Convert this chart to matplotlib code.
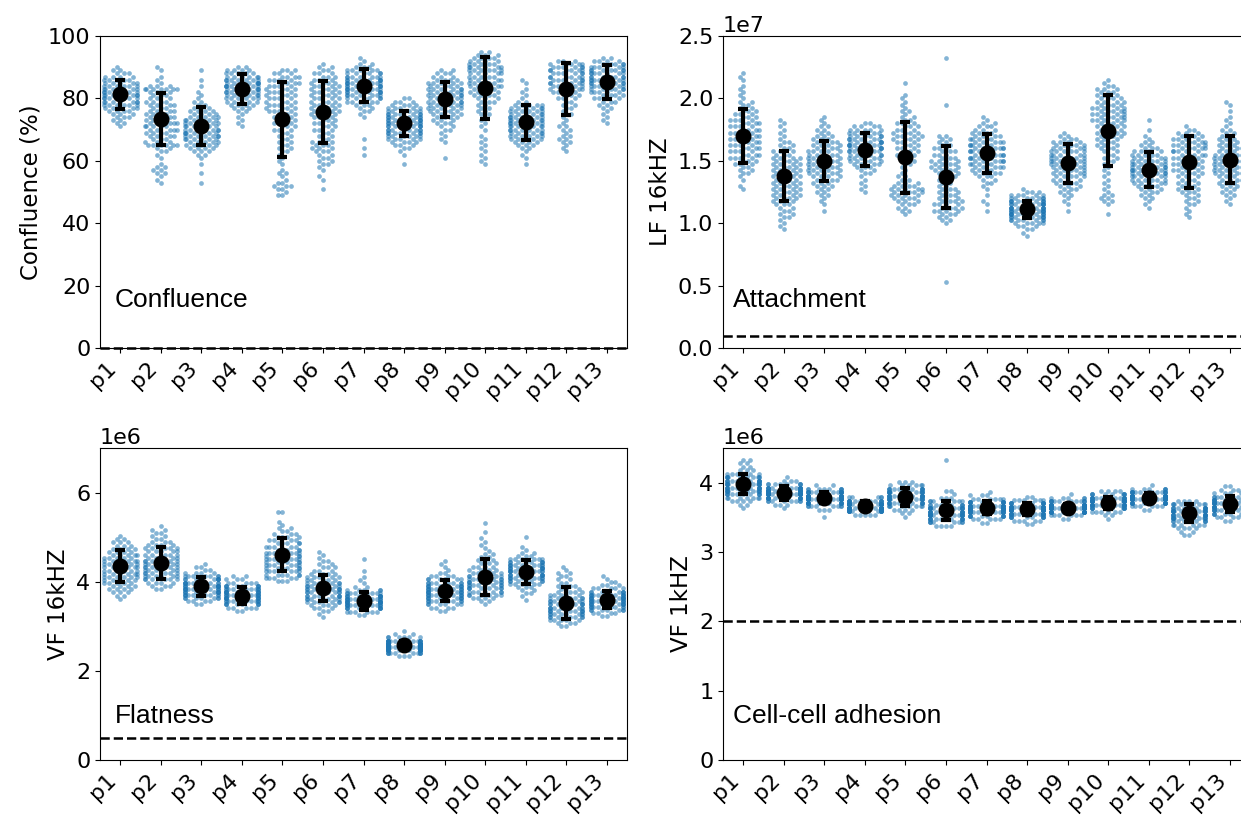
import warnings

import numpy as np
import pandas as pd
import matplotlib
matplotlib.use("Agg")
import matplotlib.pyplot as plt
import seaborn as sns

warnings.filterwarnings("ignore", category=UserWarning)

plt.rcParams["font.size"] = 16

patients = ["p%d" % i for i in range(1, 14)]

# each patient is stored as a histogram: first bin value + counts per bin

# Confluence (%), 1 % bins
conf_step = 1.0
conf_start = [71, 53, 53, 71, 49, 51, 62, 59, 61, 59, 59, 63, 72]
conf_counts = [
    [1, 2, 2, 3, 3, 4, 5, 6, 7, 7, 7, 7, 6, 6, 5, 5, 4, 3, 2, 1],
    [1, 1, 1, 2, 2, 2, 1, 0, 1, 1, 2, 2, 6, 3, 3, 4, 4, 5, 5, 5, 4, 4, 4, 4, 3, 4, 4, 3, 3, 3, 7, 3, 1, 1, 1, 0, 1, 1],
    [1, 0, 0, 1, 0, 0, 1, 0, 1, 2, 3, 4, 5, 5, 6, 7, 7, 7, 6, 6, 6, 5, 4, 4, 3, 2, 2, 1, 1, 1, 0, 1, 0, 1, 0, 0, 1],
    [1, 1, 1, 1, 1, 2, 3, 4, 5, 6, 6, 7, 7, 8, 8, 7, 6, 5, 4, 2],
    [2, 1, 2, 3, 2, 1, 1, 2, 1, 0, 1, 1, 1, 1, 2, 2, 2, 2, 2, 2, 2, 3, 3, 3, 3, 3, 3, 4, 4, 4, 4, 4, 4, 4, 4, 4, 4, 4, 4, 3, 3],
    [1, 0, 0, 1, 1, 0, 1, 1, 2, 2, 2, 2, 3, 3, 3, 3, 2, 2, 2, 3, 3, 3, 3, 3, 4, 4, 4, 4, 4, 4, 4, 4, 4, 4, 4, 3, 3, 3, 2, 2, 1],
    [1, 0, 1, 0, 0, 1, 0, 0, 0, 0, 0, 0, 1, 1, 2, 2, 3, 5, 6, 7, 8, 8, 8, 8, 8, 7, 6, 5, 3, 2, 1, 1],
    [1, 0, 0, 1, 1, 2, 3, 4, 5, 6, 7, 8, 8, 8, 8, 8, 7, 6, 5, 4, 3, 2],
    [1, 0, 0, 0, 0, 1, 1, 1, 1, 2, 2, 3, 3, 4, 4, 5, 5, 6, 6, 6, 6, 6, 6, 5, 5, 4, 3, 3, 2],
    [1, 1, 1, 1, 1, 1, 1, 1, 1, 1, 0, 1, 1, 1, 1, 1, 2, 2, 2, 2, 3, 3, 4, 4, 4, 5, 5, 5, 5, 5, 6, 6, 5, 4, 4, 3, 2],
    [1, 0, 1, 1, 1, 2, 3, 4, 5, 6, 6, 7, 7, 7, 7, 7, 6, 6, 6, 5, 2, 1, 1, 1, 1, 0, 1, 1],
    [1, 1, 1, 2, 2, 2, 1, 2, 2, 1, 1, 1, 2, 1, 2, 2, 2, 3, 3, 4, 5, 5, 6, 6, 6, 6, 6, 6, 5, 3],
    [1, 1, 1, 1, 1, 2, 2, 3, 4, 4, 5, 6, 6, 7, 7, 7, 7, 7, 6, 5, 4, 2],
]
conf_mean = [81.3, 73.3, 71.2, 82.9, 73.3, 75.6, 84.0, 72.0, 79.7, 83.4, 72.4, 83.1, 85.3]
conf_sd = [4.6, 8.3, 6.2, 4.8, 12.1, 9.9, 5.3, 4.0, 5.6, 9.9, 5.6, 8.3, 5.5]

# LF 16kHZ, in units of 1e6
att_step = 0.25
att_start = [12.75, 9.5, 11.0, 12.5, 10.75, 5.25, 11.0, 9.0, 11.0, 10.75, 11.25, 10.5, 11.5]
att_counts = [
    [1, 1, 0, 1, 1, 2, 2, 2, 3, 3, 4, 4, 4, 4, 4, 4, 4, 4, 4, 4, 4, 4, 4, 3, 3, 3, 2, 2, 2, 1, 1, 1, 1, 1, 0, 1, 1, 1],
    [1, 1, 1, 1, 2, 2, 2, 2, 3, 3, 4, 4, 4, 4, 4, 4, 4, 4, 4, 4, 4, 4, 4, 4, 3, 3, 2, 2, 2, 1, 1, 1, 1, 1, 1, 1],
    [1, 0, 1, 1, 1, 2, 2, 2, 3, 3, 4, 4, 5, 5, 5, 5, 5, 5, 5, 5, 4, 4, 4, 3, 3, 2, 2, 2, 1, 1, 1],
    [1, 1, 1, 1, 1, 1, 2, 2, 3, 4, 5, 5, 6, 6, 7, 7, 7, 6, 6, 5, 5, 4, 2],
    [1, 2, 2, 3, 3, 4, 4, 5, 5, 4, 3, 2, 2, 1, 1, 1, 2, 2, 2, 3, 3, 3, 3, 3, 4, 4, 4, 3, 3, 3, 2, 2, 1, 2, 1, 1, 1, 1, 1, 0, 0, 0, 1],
    [1] + [0] * 18
    + [1, 2, 2, 3, 4, 4, 4, 4, 3, 3, 3, 3, 2, 2, 2, 3, 3, 4, 4, 4, 4, 3, 3, 3, 3, 2, 2, 2, 2]
    + [0] * 9 + [1] + [0] * 14 + [1],
    [1, 0, 1, 1, 0, 1, 0, 1, 1, 2, 2, 3, 4, 4, 5, 5, 6, 6, 6, 6, 6, 6, 5, 5, 4, 4, 3, 3, 2, 1, 1],
    [1, 1, 2, 3, 5, 7, 9, 10, 11, 11, 10, 9, 7, 5, 3, 1],
    [1, 0, 1, 1, 1, 2, 2, 3, 3, 4, 4, 5, 5, 5, 5, 6, 6, 6, 6, 6, 5, 5, 4, 3, 2, 1],
    [1, 0, 0, 1, 2, 2, 2, 1, 1, 1, 1, 1, 1, 1, 1, 1, 1, 2, 2, 2, 2, 3, 3, 3, 3, 4, 4, 4, 4, 4, 5, 5, 5, 5, 5, 4, 4, 4, 3, 3, 3, 2, 1, 1],
    [1, 1, 1, 2, 2, 3, 3, 4, 5, 6, 6, 7, 7, 7, 6, 6, 5, 5, 4, 3, 2, 2, 1, 1, 0, 1, 0, 0, 1],
    [1, 1, 1, 1, 2, 2, 2, 2, 3, 3, 3, 3, 3, 3, 4, 4, 4, 4, 4, 4, 5, 5, 5, 5, 5, 4, 4, 3, 2, 1],
    [1, 1, 1, 2, 2, 2, 3, 3, 4, 4, 5, 5, 5, 5, 5, 5, 5, 4, 4, 4, 3, 3, 2, 2, 2, 1, 1, 1, 1, 0, 1, 0, 1, 1],
]
att_mean = [17.0, 13.8, 15.0, 15.9, 15.3, 13.7, 15.6, 11.1, 14.8, 17.4, 14.3, 14.9, 15.1]
att_sd = [2.15, 2.0, 1.6, 1.35, 2.85, 2.5, 1.55, 0.7, 1.55, 2.85, 1.4, 2.05, 1.9]

# VF 16kHZ, in units of 1e6
flat_step = 0.07
flat_start = [3.62, 3.84, 3.49, 3.35, 4.02, 3.20, 3.26, 2.33, 3.35, 3.50, 3.60, 3.00, 3.22]
flat_counts = [
    [1, 2, 3, 4, 4, 5, 5, 6, 6, 6, 6, 6, 6, 5, 5, 4, 4, 3, 3, 2, 1],
    [2, 3, 4, 6, 6, 6, 6, 6, 6, 6, 5, 5, 5, 5, 4, 3, 2, 2, 2, 2, 1],
    [2, 4, 7, 9, 10, 11, 11, 10, 9, 7, 4, 2, 2, 1],
    [2, 5, 8, 10, 11, 12, 11, 10, 8, 5, 3, 2],
    [3, 5, 6, 6, 6, 6, 6, 6, 6, 6, 5, 5, 5, 4, 4, 3, 2, 2, 1, 1, 0, 0, 2],
    [1, 1, 2, 3, 4, 6, 7, 8, 8, 8, 7, 6, 5, 5, 4, 3, 3, 2, 2, 1, 1, 1],
    [2, 6, 9, 12, 13, 12, 10, 8, 5, 2, 1, 1, 1, 0, 1, 0, 0, 0, 1],
    [3, 10, 18, 22, 20, 14, 6, 2, 1],
    [2, 4, 6, 8, 9, 10, 10, 10, 9, 8, 6, 4, 2, 1, 1, 1, 1],
    [1, 2, 4, 6, 7, 8, 8, 8, 7, 6, 5, 4, 4, 3, 3, 2, 2, 1, 1, 1, 1, 1, 0, 1, 0, 0, 1],
    [1, 1, 2, 2, 3, 5, 7, 9, 10, 10, 10, 9, 8, 6, 3, 2, 1, 1, 0, 0, 1],
    [2, 3, 5, 7, 8, 9, 9, 8, 7, 6, 5, 4, 3, 3, 2, 2, 2, 2, 1, 1],
    [2, 4, 7, 9, 11, 12, 12, 11, 8, 5, 3, 2, 1, 1],
]
flat_mean = [4.35, 4.42, 3.90, 3.69, 4.61, 3.86, 3.57, 2.58, 3.80, 4.10, 4.22, 3.52, 3.60]
flat_sd = [0.36, 0.37, 0.21, 0.20, 0.38, 0.30, 0.21, 0.08, 0.24, 0.40, 0.27, 0.36, 0.19]

# VF 1kHZ, in units of 1e6
adh_step = 0.05
adh_start = [3.63, 3.63, 3.51, 3.54, 3.51, 3.38, 3.42, 3.40, 3.48, 3.48, 3.61, 3.24, 3.45]
adh_counts = [
    [1, 2, 4, 7, 10, 12, 13, 13, 12, 10, 6, 3, 2, 2, 2],
    [1, 3, 8, 14, 18, 18, 14, 8, 3, 1],
    [1, 0, 3, 8, 14, 18, 18, 14, 8, 2],
    [5, 14, 24, 24, 14, 5],
    [1, 2, 4, 8, 12, 14, 15, 14, 11, 6, 3],
    [4, 8, 12, 14, 14, 12, 9, 6, 3, 1, 2] + [0] * 8 + [1],
    [2, 5, 10, 15, 18, 17, 12, 6, 3, 1],
    [2, 5, 10, 15, 19, 17, 11, 6, 2],
    [2, 6, 16, 24, 20, 12, 5, 1],
    [1, 2, 6, 11, 17, 18, 15, 9, 4],
    [2, 6, 13, 21, 22, 14, 6, 1],
    [2, 2, 4, 6, 9, 12, 14, 14, 12, 8, 4],
    [2, 4, 8, 12, 15, 15, 13, 9, 5, 3, 2],
]
adh_mean = [3.98, 3.85, 3.78, 3.67, 3.80, 3.60, 3.64, 3.62, 3.64, 3.71, 3.78, 3.56, 3.69]
adh_sd = [0.15, 0.10, 0.08, 0.06, 0.13, 0.14, 0.09, 0.08, 0.05, 0.09, 0.07, 0.13, 0.12]


def expand(start, counts, step, scale):
    vals = start + step * np.arange(len(counts))
    return np.repeat(vals, counts) * scale


def draw_panel(ax, starts, counts, step, scale, means, sds,
               thresh, ylabel, name, ylim, yticks=None, text_x=0.028, text_y=0.13):
    frames = []
    for pid, s, c in zip(patients, starts, counts):
        frames.append(pd.DataFrame({"patient": pid, "value": expand(s, c, step, scale)}))
    df = pd.concat(frames, ignore_index=True)

    sns.swarmplot(data=df, x="patient", y="value", order=patients, ax=ax,
                  color="C0", size=3.4, alpha=0.55, linewidth=0, zorder=1)
    ax.errorbar(np.arange(len(patients)), np.array(means) * scale,
                yerr=np.array(sds) * scale, fmt="o", color="black",
                ms=10.5, elinewidth=3, capsize=3.8, capthick=3, zorder=5)
    # threshold line; drawn unclipped so it still shows when it sits on the spine
    ax.axhline(thresh, color="black", ls="--", lw=1.8, zorder=6, clip_on=False)

    ax.set_ylim(*ylim)
    if yticks is not None:
        ax.set_yticks(yticks)
    ax.set_xlim(-0.5, len(patients) - 0.5)
    ax.set_xticks(range(len(patients)), patients, rotation=45, ha="right")
    ax.set_xlabel("")
    ax.set_ylabel(ylabel, fontsize=16.5)
    ax.text(text_x, text_y, name, transform=ax.transAxes, fontsize=19,
            family="Liberation Sans", va="baseline", ha="left")


fig = plt.figure(figsize=(12.41, 8.15), dpi=100)
w, h = 0.4247, 0.3828
ax1 = fig.add_axes([0.0806, 0.573, w, h])
ax2 = fig.add_axes([0.5826, 0.573, w, h])
ax3 = fig.add_axes([0.0806, 0.0675, w, h])
ax4 = fig.add_axes([0.5826, 0.0675, w, h])

draw_panel(ax1, conf_start, conf_counts, conf_step, 1.0, conf_mean, conf_sd,
           0, "Confluence (%)", "Confluence", (0, 100), text_y=0.131)
draw_panel(ax2, att_start, att_counts, att_step, 1e6, att_mean, att_sd,
           1e6, "LF 16kHZ", "Attachment", (0, 2.5e7), text_x=0.019, text_y=0.131)
draw_panel(ax3, flat_start, flat_counts, flat_step, 1e6, flat_mean, flat_sd,
           0.5e6, "VF 16kHZ", "Flatness", (0, 7e6), yticks=[0, 2e6, 4e6, 6e6], text_y=0.119)
draw_panel(ax4, adh_start, adh_counts, adh_step, 1e6, adh_mean, adh_sd,
           2e6, "VF 1kHZ", "Cell-cell adhesion", (0, 4.5e6), yticks=[0, 1e6, 2e6, 3e6, 4e6],
           text_x=0.019, text_y=0.119)

fig.savefig("out.png", dpi=100)
